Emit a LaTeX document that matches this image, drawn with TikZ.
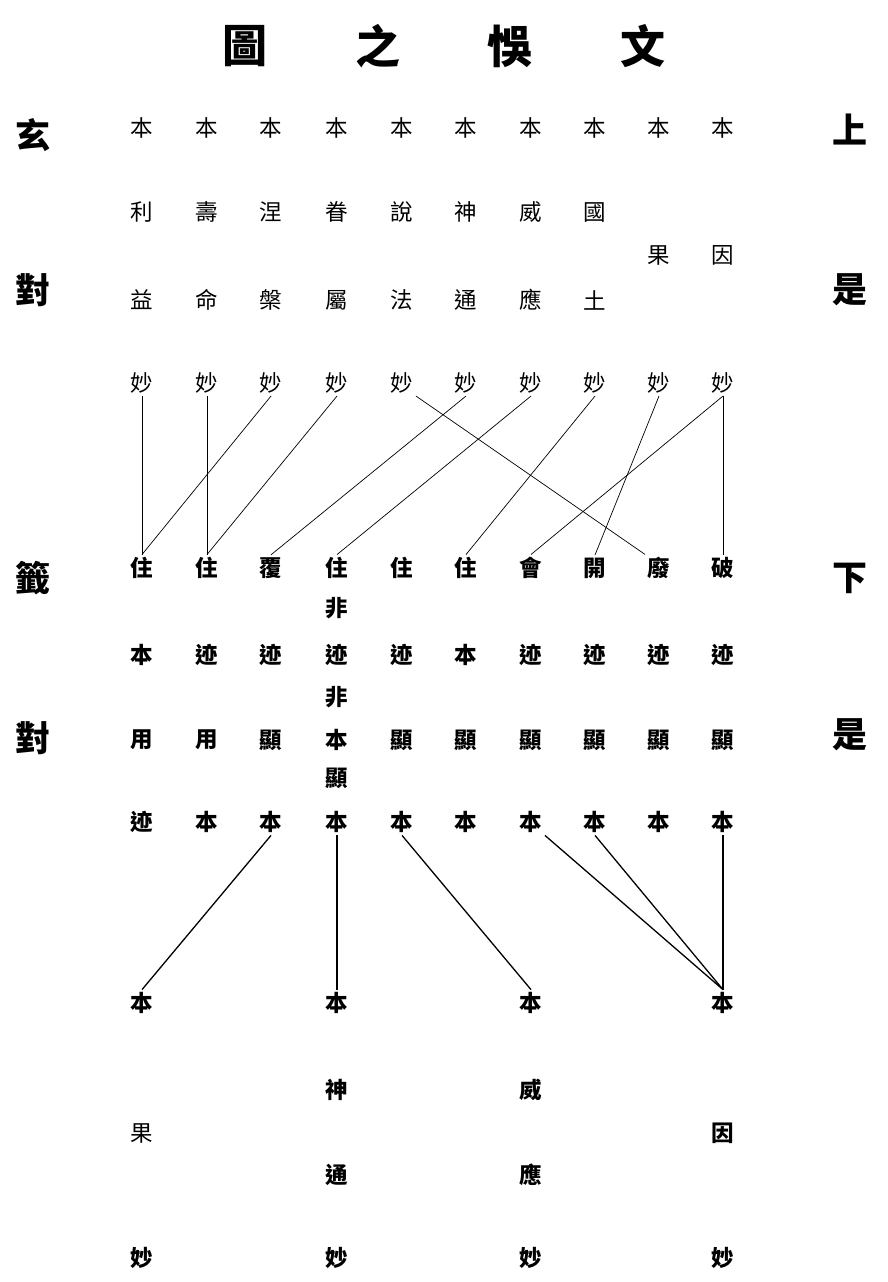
\documentclass[tikz,border=0pt]{standalone}
\usepackage{fontspec}
\newfontfamily\cjk{Noto Sans CJK TC}
\begin{document}
\begin{tikzpicture}[x=1pt,y=-1pt,
  ch/.style={font=\cjk\fontsize{22.5}{22.5}\selectfont, inner sep=2.5pt},
  chb/.style={font=\cjk\bfseries\fontsize{22.5}{22.5}\selectfont, inner sep=2.5pt},
  sidech/.style={font=\cjk\bfseries\fontsize{35}{35}\selectfont, inner sep=0pt},
  ttl/.style={font=\cjk\bfseries\fontsize{45}{45}\selectfont, inner sep=0pt},
  lnA/.style={line width=0.7pt},
  lnB/.style={line width=1.3pt}]
\useasboundingbox[fill=white] (0,0) rectangle (888,1282);
% title
\node[ttl] (h1) at (245,46) {圖};
\node[ttl] (h2) at (378,46) {之};
\node[ttl] (h3) at (510,46) {悞};
\node[ttl] (h4) at (643,46) {文};
% side characters
\node[sidech] (l1) at (33,135) {玄};
\node[sidech] (l2) at (33,290) {對};
\node[sidech] (l3) at (33,578) {籤};
\node[sidech] (l4) at (33,738) {對};
\node[sidech] (r1) at (850,130) {上};
\node[sidech] (r2) at (850,290) {是};
\node[sidech] (r3) at (850,578) {下};
\node[sidech] (r4) at (850,735) {是};
% top row
\foreach \i/\x in {1/142,2/207,3/271,4/337,5/402,6/466,7/531,8/595,9/659,10/723}
  \node[ch] (t\i) at (\x,128) {本};
\foreach \i/\x/\c in {1/142/利,2/207/壽,3/271/涅,4/337/眷,5/402/說,6/466/神,7/531/威,8/595/國}
  \node[ch] (a\i) at (\x,212) {\c};
\node[ch] (a9) at (659,255) {果};
\node[ch] (a10) at (723,255) {因};
\foreach \i/\x/\c in {1/142/益,2/207/命,3/271/槃,4/337/屬,5/402/法,6/466/通,7/531/應,8/595/土}
  \node[ch] (b\i) at (\x,300) {\c};
\foreach \i/\x in {1/142,2/207,3/271,4/337,5/402,6/466,7/531,8/595,9/659,10/723}
  \node[ch] (m\i) at (\x,383) {妙};
% ten ways
\foreach \i/\x/\c in {1/142/住,2/207/住,3/271/覆,4/337/住,5/402/住,6/466/住,7/531/會,8/595/開,9/659/廢,10/723/破}
  \node[chb] (z\i) at (\x,568) {\c};
\node[chb] (n1) at (337,608) {非};
\foreach \i/\x/\c in {1/142/本,2/207/迹,3/271/迹,4/337/迹,5/402/迹,6/466/本,7/531/迹,8/595/迹,9/659/迹,10/723/迹}
  \node[chb] (j\i) at (\x,655) {\c};
\node[chb] (n2) at (337,697) {非};
\foreach \i/\x/\c in {1/142/用,2/207/用,3/271/顯,4/337/本,5/402/顯,6/466/顯,7/531/顯,8/595/顯,9/659/顯,10/723/顯}
  \node[chb] (x\i) at (\x,740) {\c};
\node[chb] (n3) at (337,778) {顯};
\foreach \i/\x/\c in {1/142/迹,2/207/本,3/271/本,4/337/本,5/402/本,6/466/本,7/531/本,8/595/本,9/659/本,10/723/本}
  \node[chb] (k\i) at (\x,822) {\c};
% lower part
\node[chb] (p1) at (142,1003) {本};
\node[chb] (p4) at (337,1003) {本};
\node[chb] (p7) at (531,1003) {本};
\node[chb] (p10) at (723,1003) {本};
\node[chb] (q4a) at (337,1090) {神};
\node[chb] (q4b) at (337,1175) {通};
\node[chb] (q7a) at (531,1090) {威};
\node[chb] (q7b) at (531,1175) {應};
\node[ch] (q1) at (142,1133) {果};
\node[chb] (q10) at (723,1133) {因};
\foreach \i/\x in {1/142,4/337,7/531,10/723}
  \node[chb] (w\i) at (\x,1258) {妙};
% connectors, upper section
\draw[lnA] (m1.south) -- (z1.north);
\draw[lnA] (m2.south) -- (z2.north);
\draw[lnA] (m3.south) -- (z1.north);
\draw[lnA] (m4.south) -- (z2.north);
\draw[lnA] (m5.south east) -- (z9.north west);
\draw[lnA] (m6.south) -- (z3.north);
\draw[lnA] (m7.south) -- (z4.north);
\draw[lnA] (m8.south) -- (z6.north);
\draw[lnA] (m9.south) -- (z8.north);
\draw[lnA] (m10.south) -- (z7.north);
\draw[lnA] (m10.south) -- (z10.north);
% connectors, lower section
\draw[lnB] (k3.south) -- (p1.north);
\draw[lnB] (k4.south) -- (p4.north);
\draw[lnB] (k5.south) -- (p7.north);
\draw[lnB] (k7.south east) -- (p10.north);
\draw[lnB] (k8.south) -- (p10.north);
\draw[lnB] (k10.south) -- (p10.north);
\end{tikzpicture}
\end{document}
